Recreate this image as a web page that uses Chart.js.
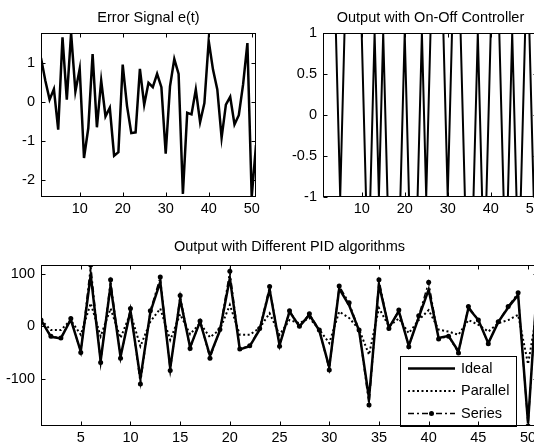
<!DOCTYPE html>
<html>
<head>
<meta charset="utf-8">
<script src="https://cdn.jsdelivr.net/npm/chart.js@4/dist/chart.umd.min.js"></script>
<style>
  html, body { margin: 0; padding: 0; background: #fff; overflow: hidden; }
  #fig { position: relative; width: 534px; height: 444px; overflow: hidden; background: #fff; }
  #fig canvas { position: absolute; }
</style>
</head>
<body>
<div id="fig">
  <canvas id="error-chart" width="270" height="225" style="left:0;top:0"></canvas>
  <canvas id="onoff-chart" width="270" height="225" style="left:282px;top:0"></canvas>
  <canvas id="pid-chart" width="560" height="214" style="left:0;top:230px"></canvas>
</div>
<script>
/* Values, one per sample k = 1..51 */
let errorSignal = [
  1.13, 0.55, 0.06, 0.33, -0.71, 1.66, 0.06, 1.77, 0.27, 0.85,
  -1.44, -0.67, 1.23, -0.65, 0.55, -0.37, -0.15, -1.38, -1.29, 0.96,
  -0.1, -0.8, -0.78, 0.85, -0.07, 0.49, 0.38, 0.72, 0.38, -1.33,
  0.4, 1.1, 0.72, -2.36, -0.28, -0.32, 0.32, -0.52, -0.03, 1.57,
  0.83, 0.32, -0.92, -0.07, 0.13, -0.58, -0.34, 0.45, 1.51, -2.44,
  -1.11
]
let onOffOutput = [
  1, 1, 1, 1, -1, 1, 1, 1, 1, 1,
  -1, -1, 1, -1, 1, -1, -1, -1, -1, 1,
  -1, -1, -1, 1, -1, 1, 1, 1, 1, -1,
  1, 1, 1, -1, -1, -1, 1, -1, -1, 1,
  1, 1, -1, -1, 1, -1, -1, 1, 1, -1,
  -1
]
let idealPID = [
  12, -20, -23, 13, -48, 98, -66, 78, -58, 30,
  -100, 27, 85, -80, 52, -40, 9, -56, -8, 92,
  -44, -38, -6, 70, -36, 28, 0, 22, -8, -78,
  72, 40, -8, -137, 80, -3, 29, -37, 17, 70,
  -22, -18, -48, 35, 12, -32, 8, 36, 60, -185,
  105
]
let parallelPID = [
  12, -7, -7, 12, -16, 44, -19, 34, -22, 25,
  -38, 9, 34, -26, 23, -15, 6, -21, -6, 41,
  -16, -16, -3, 25, -16, 12, 6, 16, -6, -32,
  28, 16, -6, -54, 35, 0, 15, -13, 12, 31,
  -6, -10, -16, 12, 3, -10, 6, 12, 22, -72,
  40
]
let seriesPID = [
  12, -19, -22, 15, -50, 117, -69, 89, -61, 34,
  -110, 30, 94, -84, 59, -42, 10, -61, -6, 105,
  -43, -37, -4, 76, -38, 30, 0, 24, -7, -83,
  77, 45, -7, -150, 89, -4, 31, -39, 20, 84,
  -24, -19, -51, 38, 12, -33, 9, 38, 64, -190,
  112
]

/* Tick labels */
let topTicksX = [10, 20, 30, 40, 50]
let pidTicksX = [5, 10, 15, 20, 25, 30, 35, 40, 45, 50]
let errorTicksY = [-2, -1, 0, 1]
let onOffTicksY = [-1, -0.5, 0, 0.5, 1]
let pidTicksY = [-100, 0, 100]

Chart.defaults.font.family = "'Liberation Sans', Arial, sans-serif"
Chart.defaults.font.size = 14.5
Chart.defaults.color = '#000'

function toPoints(values) {
  return values.map((v, i) => ({ x: i + 1, y: v }))
}

function axis(ticks, min, max, size, isX) {
  return {
    type: 'linear',
    min: min,
    max: max,
    grid: { display: false, drawTicks: false },
    border: { display: false },
    ticks: { padding: isX ? 3 : 6, autoSkip: false, maxRotation: 0, callback: v => String(v) },
    afterBuildTicks: scale => { scale.ticks = ticks.map(v => ({ value: v })) },
    afterFit: scale => {
      if (isX) scale.height = size
      else scale.width = size
    }
  }
}

// MATLAB style box with inward tick marks on all four sides
let matlabBox = {
  id: 'matlabBox',
  afterDraw(chart) {
    let ctx = chart.ctx
    let a = chart.chartArea
    let l = Math.round(a.left) + 0.5, r = Math.round(a.right) - 0.5
    let t = Math.round(a.top) + 0.5, b = Math.round(a.bottom) - 0.5
    ctx.save()
    ctx.strokeStyle = '#000'
    ctx.lineWidth = 1
    ctx.strokeRect(l, t, r - l, b - t)
    ctx.beginPath()
    chart.scales.x.ticks.forEach(tk => {
      let px = Math.round(chart.scales.x.getPixelForValue(tk.value)) + 0.5
      ctx.moveTo(px, b); ctx.lineTo(px, b - 4)
      ctx.moveTo(px, t); ctx.lineTo(px, t + 4)
    })
    chart.scales.y.ticks.forEach(tk => {
      let py = Math.round(chart.scales.y.getPixelForValue(tk.value)) + 0.5
      ctx.moveTo(l, py); ctx.lineTo(l + 4, py)
      ctx.moveTo(r, py); ctx.lineTo(r - 4, py)
    })
    ctx.stroke()
    ctx.restore()
  }
}

// Legend box in the lower right corner of the PID axes
let pidLegend = {
  id: 'pidLegend',
  afterDraw(chart) {
    let ctx = chart.ctx
    let a = chart.chartArea
    let w = 116, h = 70
    let x0 = Math.round(a.right) - 138, y0 = Math.round(a.bottom) - h
    ctx.save()
    ctx.fillStyle = '#fff'
    ctx.fillRect(x0, y0, w, h)
    ctx.strokeStyle = '#000'
    ctx.lineWidth = 1
    ctx.strokeRect(x0 + 0.5, y0 + 0.5, w, h)
    ctx.font = "14.5px 'Liberation Sans', Arial, sans-serif"
    ctx.textBaseline = 'middle'
    chart.data.datasets.forEach((ds, i) => {
      let y = y0 + 12.5 + i * 22.5
      ctx.strokeStyle = ds.borderColor
      ctx.lineWidth = ds.borderWidth
      ctx.setLineDash(ds.borderDash || [])
      ctx.beginPath()
      ctx.moveTo(x0 + 8, y)
      ctx.lineTo(x0 + 55, y)
      ctx.stroke()
      ctx.setLineDash([])
      if (ds.pointRadius) {
        ctx.fillStyle = ds.pointBackgroundColor
        ctx.beginPath()
        ctx.arc(x0 + 31.5, y, ds.pointRadius, 0, 2 * Math.PI)
        ctx.fill()
      }
      ctx.fillStyle = '#000'
      ctx.fillText(ds.label, x0 + 61, y)
    })
    ctx.restore()
  }
}

function titleOptions(text, top, bottom) {
  return {
    display: true,
    text: text,
    fullSize: false,
    color: '#000',
    font: { size: 14.5, weight: 'normal' },
    padding: { top: top, bottom: bottom }
  }
}

let baseOptions = {
  responsive: false,
  animation: false,
  devicePixelRatio: 1,
  events: []
}

/* Error signal e(t) */
new Chart(document.querySelector('#error-chart'), {
  type: 'line',
  data: {
    datasets: [{
      data: toPoints(errorSignal),
      borderColor: '#000',
      borderWidth: 2.5,
      pointRadius: 0,
      tension: 0
    }]
  },
  options: Object.assign({}, baseOptions, {
    layout: { padding: { left: 0, right: 14, top: 0, bottom: 0 } },
    plugins: {
      legend: { display: false },
      tooltip: { enabled: false },
      title: titleOptions('Error Signal e(t)', 9.3, 6.3)
    },
    scales: {
      x: axis(topTicksX, 1, 51, 28, true),
      y: axis(errorTicksY, -2.44, 1.77, 41, false)
    }
  }),
  plugins: [matlabBox]
})

/* On-Off controller output */
new Chart(document.querySelector('#onoff-chart'), {
  type: 'line',
  data: {
    datasets: [{
      data: toPoints(onOffOutput),
      borderColor: '#000',
      borderWidth: 2,
      pointRadius: 0,
      tension: 0
    }]
  },
  options: Object.assign({}, baseOptions, {
    layout: { padding: { left: 0, right: 14, top: 0, bottom: 0 } },
    plugins: {
      legend: { display: false },
      tooltip: { enabled: false },
      title: titleOptions('Output with On-Off Controller', 9.3, 6.3)
    },
    scales: {
      x: axis(topTicksX, 1, 51, 28, true),
      y: axis(onOffTicksY, -1, 1, 41, false)
    }
  }),
  plugins: [matlabBox]
})

/* PID outputs */
new Chart(document.querySelector('#pid-chart'), {
  type: 'line',
  data: {
    datasets: [
      {
        label: 'Ideal',
        data: toPoints(idealPID),
        borderColor: '#000',
        borderWidth: 2.5,
        pointRadius: 0,
        tension: 0,
        order: 2
      },
      {
        label: 'Parallel',
        data: toPoints(parallelPID),
        borderColor: '#000',
        borderWidth: 2,
        borderDash: [2, 2.5],
        pointRadius: 0,
        tension: 0,
        order: 3
      },
      {
        label: 'Series',
        data: toPoints(seriesPID),
        borderColor: '#000',
        borderWidth: 1.5,
        borderDash: [6, 3, 2, 3],
        pointRadius: 2.5,
        pointBackgroundColor: '#000',
        pointBorderWidth: 0,
        tension: 0,
        order: 1
      }
    ]
  },
  options: Object.assign({}, baseOptions, {
    layout: { padding: { left: 0, right: 22, top: 0, bottom: 0 } },
    plugins: {
      legend: { display: false },
      tooltip: { enabled: false },
      title: titleOptions('Output with Different PID algorithms', 8, 9.6)
    },
    scales: {
      x: axis(pidTicksX, 1, 51, 18, true),
      y: axis(pidTicksY, -190, 117, 41, false)
    }
  }),
  plugins: [pidLegend, matlabBox]
})
</script>
</body>
</html>
